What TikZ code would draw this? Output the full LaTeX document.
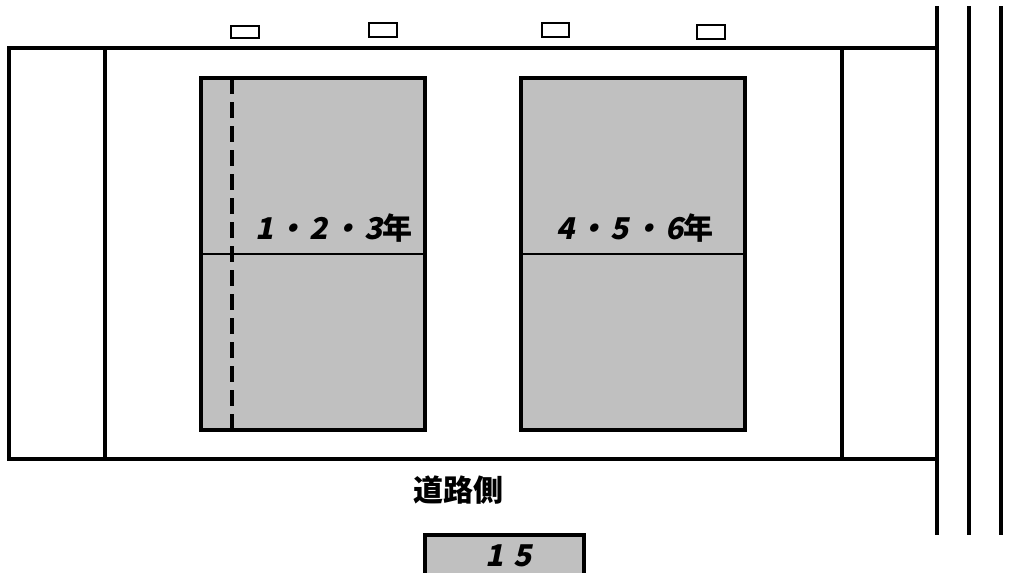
\documentclass[tikz,border=0pt]{standalone}
\usepackage{fontspec}
\newfontfamily\jpfont{Noto Sans CJK JP Black}
\newfontfamily\jpslant{Noto Sans CJK JP Black}[FakeSlant=0.2]
\definecolor{court}{HTML}{C0C0C0}
\newcommand{\gdot}{\kern1.5pt・\kern1.5pt}
\tikzset{
	wall/.style={line width=1.75pt},
	bench/.style={line width=1pt},
	label/.style={font=\fontsize{15}{15}\selectfont, inner sep=0pt}
}
\begin{document}
\begin{tikzpicture}[x=0.5pt,y=-0.5pt]
		\useasboundingbox (0,0) rectangle (1030,573);
		% ground
		\draw[wall] (9,48) rectangle (937,459);
		\draw[wall] (105,48) -- (105,459);
		\draw[wall] (842,48) -- (842,459);
		% road lines
		\draw[wall] (937,6) -- (937,535);
		\draw[wall] (969,6) -- (969,535);
		\draw[wall] (1001,6) -- (1001,535);
		% benches
		\draw[bench] (231,26) rectangle (259,38);
		\draw[bench] (369,23) rectangle (397,37);
		\draw[bench] (542,23) rectangle (569,37);
		\draw[bench] (697,25) rectangle (725,39);
		% courts
		\draw[wall,fill=court] (201,78) rectangle (425,430);
		\draw[line width=1.25pt] (201,254) -- (425,254);
		\draw[wall,dash pattern=on 8 off 4] (232,78) -- (232,430);
		\draw[wall,fill=court] (521,78) rectangle (745,430);
		\draw[line width=1.25pt] (521,254) -- (745,254);
		\node[label] (lower) at (334,228) {\jpslant 1\gdot 2\gdot 3\jpfont 年};
		\node[label] (upper) at (635,228) {\jpslant 4\gdot 5\gdot 6\jpfont 年};
		\node[label] (road) at (458,490) {\jpfont 道路側};
		% number
		\draw[wall,fill=court] (425,590) -- (425,535) -- (584,535) -- (584,590);
		\node[label] (num) at (509,556) {\jpslant 1\kern5pt 5};
		\end{tikzpicture}
\end{document}
